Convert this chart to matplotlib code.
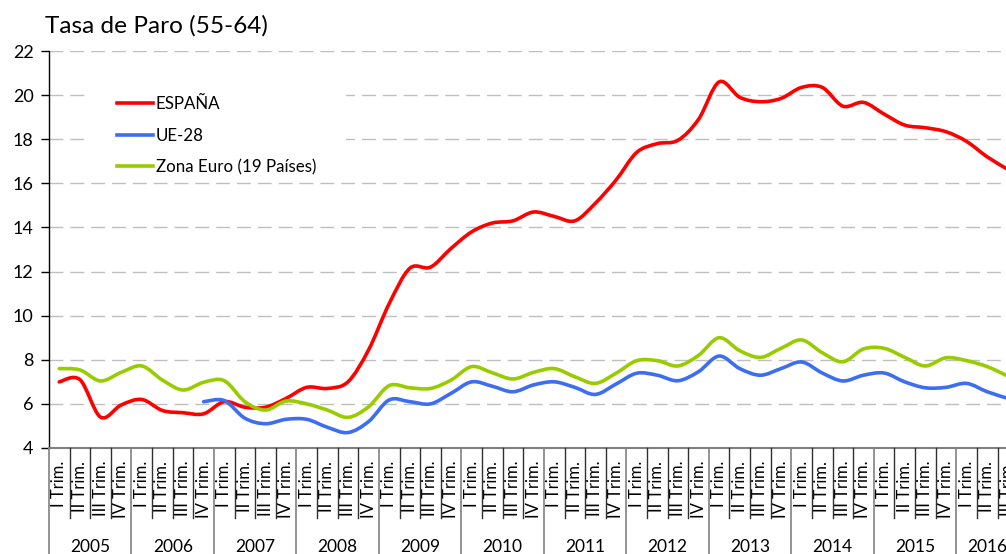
import matplotlib
matplotlib.use("Agg")
import matplotlib.pyplot as plt
from matplotlib.path import Path
from matplotlib.patches import PathPatch, Rectangle
from matplotlib.lines import Line2D
import numpy as np

plt.rcParams['font.family'] = ['Lato', 'DejaVu Sans']
plt.rcParams['lines.scale_dashes'] = False

years = ['2005', '2006', '2007', '2008', '2009', '2010', '2011', '2012',
         '2013', '2014', '2015', '2016']
quarters = ['I Trim.', 'II Trim.', 'III Trim.', 'IV Trim.']
quarters_per_year = [4] * 11 + [3]

espana = [7.0, 7.1, 5.4, 5.95, 6.2, 5.7, 5.6, 5.55, 6.1, 5.85, 5.85, 6.25,
          6.75, 6.7, 7.0, 8.45, 10.55, 12.15, 12.2, 13.05, 13.8, 14.2, 14.3,
          14.7, 14.5, 14.3, 15.1, 16.15, 17.4, 17.8, 17.95, 18.9, 20.6, 19.9,
          19.7, 19.85, 20.35, 20.35, 19.5, 19.67, 19.14, 18.64, 18.52, 18.34,
          17.9, 17.2, 16.63]
ue28 = [None] * 7 + [6.1, 6.15, 5.35, 5.1, 5.3, 5.3, 4.94, 4.7, 5.2, 6.18,
                     6.1, 6.0, 6.48, 7.0, 6.8, 6.55, 6.86, 7.0, 6.75, 6.43,
                     6.9, 7.39, 7.3, 7.05, 7.46, 8.17, 7.6, 7.3, 7.6, 7.9,
                     7.4, 7.04, 7.3, 7.4, 7.0, 6.73, 6.75, 6.93, 6.55, 6.25]
zona_euro = [7.6, 7.54, 7.04, 7.43, 7.72, 7.08, 6.63, 6.98, 7.05, 6.1, 5.72,
             6.13, 6.0, 5.72, 5.39, 5.87, 6.83, 6.73, 6.7, 7.08, 7.69, 7.41,
             7.13, 7.43, 7.6, 7.23, 6.93, 7.39, 7.96, 7.96, 7.72, 8.2, 9.0,
             8.41, 8.11, 8.52, 8.9, 8.32, 7.91, 8.49, 8.52, 8.11, 7.72, 8.09,
             7.96, 7.69, 7.26]

series = [('ESPAÑA', espana, '#ff0000'),
          ('UE-28', ue28, '#3d6ef2'),
          ('Zona Euro (19 Países)', zona_euro, '#99cc00')]

W, H = 1006, 554
fig = plt.figure(figsize=(W / 100, H / 100), dpi=100)
n_slots = sum(quarters_per_year)
slot_px = 20.62
left_px, top_px, bot_px = 49, 51, 448
right_px = left_px + n_slots * slot_px
ax = fig.add_axes([left_px / W, 1 - bot_px / H, (right_px - left_px) / W,
                   (bot_px - top_px) / H])

ax.set_xlim(0, n_slots)
ax.set_ylim(4, 22)
ax.set_yticks(range(4, 23, 2))
ax.set_axisbelow(True)
ax.yaxis.grid(True, color='#bfbfbf', linewidth=1.0, linestyle=(0, (10, 5)))
ax.set_xticks([])

for s in ['top', 'right']:
    ax.spines[s].set_visible(False)
ax.spines['left'].set_color('black')
ax.spines['left'].set_linewidth(1.0)
ax.spines['bottom'].set_color('#808080')
ax.spines['bottom'].set_linewidth(1.5)
ax.tick_params(axis='y', length=6, width=1.0, pad=5, labelsize=13,
               colors='black')

for line, val in zip(ax.yaxis.get_gridlines(), range(4, 23, 2)):
    if val == 4:
        line.set_visible(False)


def smooth_path(xs, ys):
    pts = np.column_stack([xs, ys]).astype(float)
    verts = [pts[0]]
    codes = [Path.MOVETO]
    n = len(pts)
    for i in range(n - 1):
        p0 = pts[i - 1] if i > 0 else pts[i]
        p1 = pts[i]
        p2 = pts[i + 1]
        p3 = pts[i + 2] if i + 2 < n else pts[i + 1]
        c1 = p1 + (p2 - p0) / 6.0
        c2 = p2 - (p3 - p1) / 6.0
        verts += [c1, c2, p2]
        codes += [Path.CURVE4] * 3
    return Path(verts, codes)


handles = []
for name, vals, color in series:
    xs = [i + 0.5 for i, v in enumerate(vals) if v is not None]
    ys = [v for v in vals if v is not None]
    patch = PathPatch(smooth_path(xs, ys), facecolor='none', edgecolor=color,
                      linewidth=2.6, capstyle='round', joinstyle='round',
                      zorder=3)
    ax.add_patch(patch)
    handles.append(Line2D([], [], color=color, linewidth=2.6))

box = Rectangle(((86 - left_px) / (right_px - left_px), (bot_px - 180) / (bot_px - top_px)),
                (346 - 86) / (right_px - left_px), (180 - 80) / (bot_px - top_px),
                transform=ax.transAxes, facecolor='white', edgecolor='none',
                zorder=1)
ax.add_patch(box)

leg = ax.legend(handles, [s[0] for s in series], loc='upper left',
                bbox_to_anchor=(117 / W, 1 - 96 / H), bbox_transform=fig.transFigure,
                frameon=False, fontsize=12.2, handlelength=2.15,
                handletextpad=0.15, labelspacing=0.92, borderpad=0,
                borderaxespad=0)
leg.set_zorder(5)

xt = ax.get_xaxis_transform()
axh = bot_px - top_px
q_len = -(518 - bot_px) / axh
y_len = -(H - bot_px + 5) / axh
boundaries = np.cumsum([0] + quarters_per_year)
for k in range(n_slots + 1):
    if k in boundaries:
        ax.plot([k, k], [0, y_len], transform=xt, color='#808080', lw=1.2,
                clip_on=False, zorder=4)
    else:
        ax.plot([k, k], [0, q_len], transform=xt, color='#303030', lw=1.0,
                clip_on=False, zorder=4)

lab_top = -(461 - bot_px) / axh
for yi, yr in enumerate(years):
    start = boundaries[yi]
    nq = quarters_per_year[yi]
    for qi in range(nq):
        ax.text(start + qi + 0.5, lab_top, quarters[qi], rotation=90,
                ha='center', va='top', fontsize=12, transform=xt,
                clip_on=False)
    ax.text(start + nq / 2, -(547 - bot_px) / axh, yr, ha='center',
            va='center', fontsize=12.5, transform=xt, clip_on=False)

fig.text(45 / W, 1 - 33 / H, 'Tasa de Paro (55-64)', fontsize=17.6,
         ha='left', va='baseline')

fig.savefig('out.png', dpi=100)
